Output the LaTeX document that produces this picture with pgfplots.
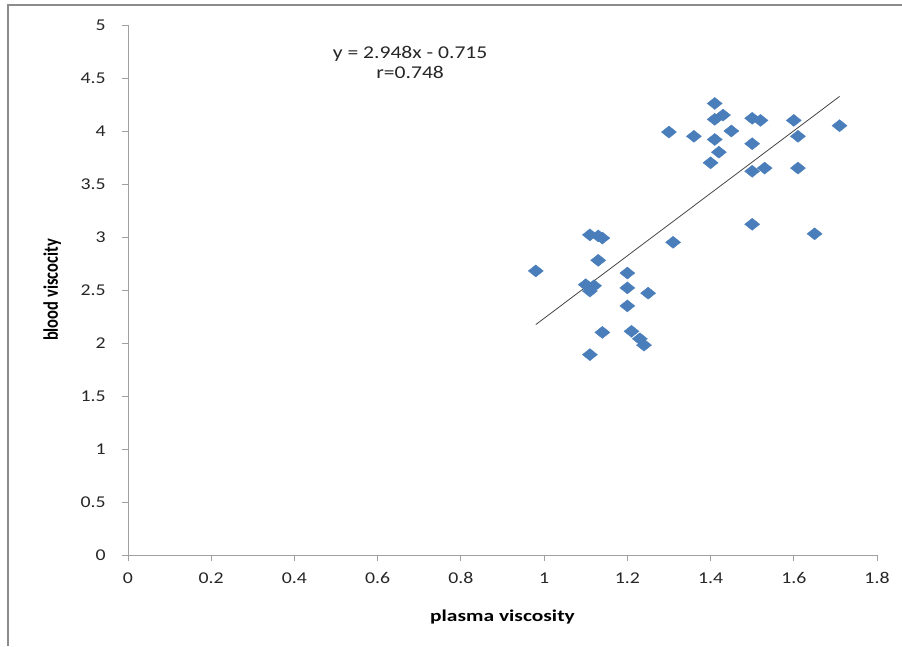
\documentclass[border=0pt]{standalone}
\usepackage{fontspec}
\setmainfont{Carlito}
\usepackage{pgfplots}
\pgfplotsset{compat=1.18}
\definecolor{markblue}{RGB}{74,126,187}
\definecolor{axisgray}{RGB}{160,160,160}
\definecolor{framegray}{RGB}{140,140,140}
\definecolor{trendgray}{RGB}{70,70,70}

\begin{document}
\begin{tikzpicture}[x=1pt,y=1pt]
\useasboundingbox (0,0) rectangle (902,646);
\draw[framegray, line width=2pt] (8,0) -- (8,641) -- (903,641);
\begin{axis}[
    at={(128pt,91pt)}, anchor=south west,
    scale only axis, width=749pt, height=530pt,
    xmin=0, xmax=1.8, ymin=0, ymax=5,
    xtick={0,0.2,...,1.8}, ytick={0,0.5,...,5},
    axis lines=left,
    axis line style={-, draw=axisgray, line width=0.9pt},
    tick style={draw=axisgray, line width=0.9pt},
    tick align=outside, major tick length=6pt,
    /pgf/number format/assume math mode=true,
    /pgf/number format/fixed,
    tick label style={font=\fontsize{16.5}{18}\selectfont, text=black!85, xscale=1.2},
    xticklabel style={yshift=-8pt},
    yticklabel style={xshift=-10pt},
    xlabel={plasma viscosity},
    ylabel={blood viscocity},
    xlabel style={font=\bfseries\fontsize{16.5}{18}\selectfont, xscale=1.3, yshift=-19pt},
    ylabel style={font=\bfseries\fontsize{16.5}{18}\selectfont, yscale=1.25, yshift=9pt},
    clip=false,
  ]
  % data points
  \addplot[only marks, mark=diamond*, mark size=6pt,
           mark options={xscale=1.667, fill=markblue, draw=markblue}]
  coordinates {
    (0.98,2.68) (1.11,3.02) (1.13,3.01) (1.14,2.99) (1.13,2.78)
    (1.10,2.55) (1.12,2.54) (1.11,2.49) (1.20,2.66) (1.20,2.52)
    (1.20,2.35) (1.25,2.47) (1.14,2.10) (1.21,2.11) (1.23,2.04)
    (1.24,1.98) (1.11,1.89) (1.31,2.95) (1.30,3.99) (1.36,3.95)
    (1.41,4.26) (1.41,4.11) (1.43,4.15) (1.41,3.92) (1.45,4.00)
    (1.42,3.80) (1.40,3.70) (1.50,4.12) (1.52,4.10) (1.50,3.88)
    (1.50,3.62) (1.53,3.65) (1.50,3.12) (1.60,4.10) (1.61,3.95)
    (1.61,3.65) (1.65,3.03) (1.71,4.05)
  };
  % linear trend line
  \addplot[trendgray, line width=0.8pt] coordinates {(0.98,2.174) (1.71,4.326)};
  \node[align=center, text=black!85, xscale=1.2,
        font=\fontsize{18}{20}\selectfont]
    at (axis cs:0.678,4.645) {y = 2.948x - 0.715\\r=0.748};
\end{axis}
\end{tikzpicture}
\end{document}
